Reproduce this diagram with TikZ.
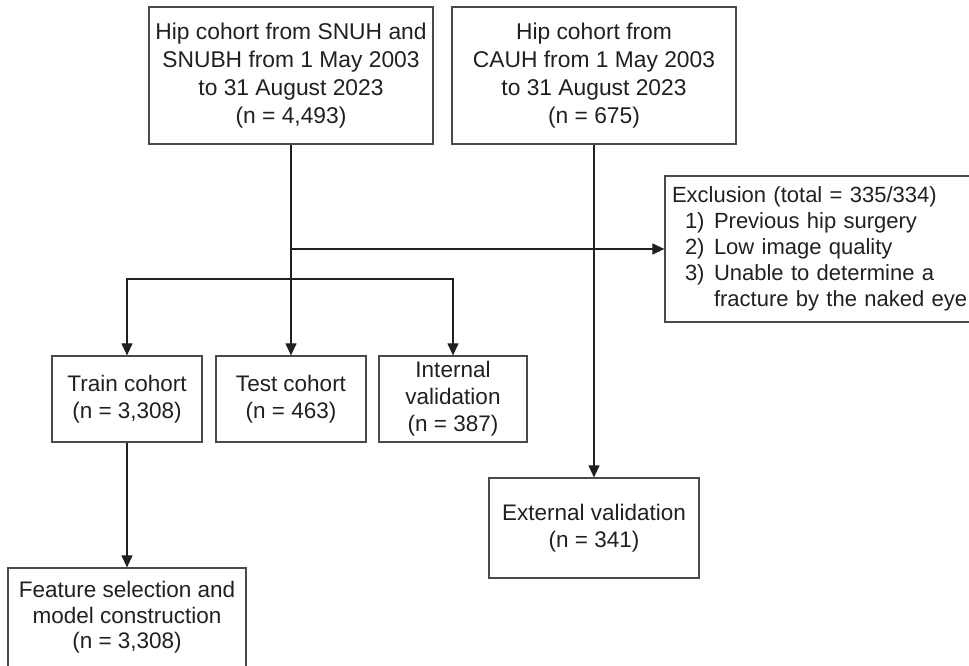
\documentclass[tikz,border=0pt]{standalone}
\usepackage{fontspec}
\setmainfont{Liberation Sans}
\usetikzlibrary{arrows.meta}

\definecolor{ink}{HTML}{231F20}
\definecolor{rule}{HTML}{4A4A4A}

\newcommand{\exitem}[2]{\hspace*{13pt}\makebox[29pt][l]{#1)}#2}

\begin{document}
\begin{tikzpicture}[x=1pt,y=-1pt,
  box/.style={draw=rule,line width=1.2pt,text=ink,inner sep=0pt,align=center,
    font=\fontsize{22.5}{27}\selectfont},
  link/.style={draw=ink,line width=1.1pt},
  arrow/.style={link,-{Triangle[length=12pt,width=11pt]}}]
\useasboundingbox (0,0) rectangle (969,666);
\clip (0,0) rectangle (969,666);

% Source cohorts
\node[box,minimum width=284pt,minimum height=137pt,
  font=\fontsize{22.8}{28.2}\selectfont] (snuh) at (291,75.5)
  {Hip cohort from SNUH and\\SNUBH from 1 May 2003\\to 31 August 2023\\(n = 4,493)};
\node[box,minimum width=284pt,minimum height=137pt,
  font=\fontsize{22.8}{28.2}\selectfont] (cauh) at (594,75.5)
  {Hip cohort from\\CAUH from 1 May 2003\\to 31 August 2023\\(n = 675)};

% Exclusion criteria
\node[box,align=left,text width=301pt,inner xsep=7pt,minimum height=146pt,
  font=\fontsize{22}{26}\selectfont] (excl) at (822.5,249)
  {Exclusion (total = 335/334)\\
   \exitem{1}{Previous hip surgery}\\
   \exitem{2}{Low image quality}\\
   \exitem{3}{Unable to determine a}\\
   \hspace*{42pt}fracture by the naked eye};

% Split cohorts
\node[box,minimum width=150pt,minimum height=86pt] (train) at (127,399)
  {Train cohort\\(n = 3,308)};
\node[box,minimum width=150pt,minimum height=86pt] (test) at (291,399)
  {Test cohort\\(n = 463)};
\node[box,minimum width=148pt,minimum height=86pt] (internal) at (453,399)
  {Internal\\validation\\(n = 387)};

% Downstream
\node[box,minimum width=238pt,minimum height=99pt,
  font=\fontsize{22.5}{25.5}\selectfont] (feature) at (127,617.5)
  {Feature selection and\\model construction\\(n = 3,308)};
\node[box,minimum width=210pt,minimum height=100pt] (external) at (594,528)
  {External validation\\(n = 341)};

% Connectors
\coordinate (fork) at (291,279);
\draw[arrow] (snuh.south) -- (test.north);
\draw[arrow] (snuh.south |- excl.west) -- (excl.west);
\draw[arrow] (fork) -| (train.north);
\draw[arrow] (fork) -| (internal.north);
\draw[arrow] (cauh.south) -- (external.north);
\draw[arrow] (train.south) -- (feature.north);
\end{tikzpicture}
\end{document}
